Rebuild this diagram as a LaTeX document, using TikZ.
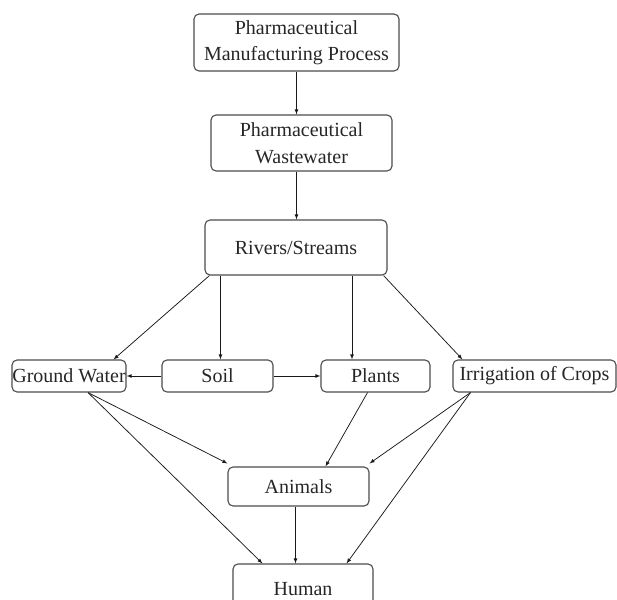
\documentclass[tikz,border=0pt]{standalone}
\usepackage{fontspec}
\setmainfont{Liberation Serif}
\usetikzlibrary{arrows,positioning,calc}

\tikzset{
  stage/.style={draw=black!70, line width=1.1pt, rounded corners=5pt, align=center,
    inner sep=0pt, text=black!85, font=\fontsize{20}{26.5}\selectfont},
  flow/.style={->, >=latex, line width=0.75pt, black!90}
}

\begin{document}
\begin{tikzpicture}[x=1pt,y=-1pt]
\useasboundingbox (0,0) rectangle (617,599);
% boxes
\node [stage, minimum width=205pt, minimum height=57pt] (proc) at (296.5,42.5) {Pharmaceutical\\Manufacturing Process};
\node [stage, minimum width=181pt, minimum height=56pt] (waste) at (301.5,143) {Pharmaceutical\\Wastewater};
\node [stage, minimum width=182pt, minimum height=55pt] (rivers) at (296,247.5) {Rivers/Streams};
\node [stage, minimum width=114pt, minimum height=32pt] (ground) at (69,376) {Ground Water};
\node [stage, minimum width=111pt, minimum height=32pt] (soil) at (217.5,376) {Soil};
\node [stage, minimum width=109pt, minimum height=32pt] (plants) at (375.5,376) {Plants};
\node [stage, minimum width=163pt, minimum height=32pt] (irrig) at (534.5,376) {Irrigation of Crops};
\node [stage, minimum width=141pt, minimum height=39pt] (animals) at (298.5,486.5) {Animals};
\node [stage, minimum width=140pt, minimum height=50pt] (human) at (303,589) {Human};
% connectors
\draw [flow] (proc.south) -- (proc.south |- waste.north);
\draw [flow] (proc.south |- waste.south) -- (proc.south |- rivers.north);
\draw [flow] ([xshift=5pt]rivers.south west) -- ([xshift=-13pt]ground.north east);
\draw [flow] ([xshift=16pt]rivers.south west) -- ([xshift=16pt]rivers.south west |- soil.north);
\draw [flow] ([xshift=56pt]rivers.south) -- ([xshift=56pt]rivers.south |- plants.north);
\draw [flow] ([xshift=-4pt]rivers.south east) -- ([xshift=10pt]irrig.north west);
\draw [flow] (soil.west) -- (ground.east);
\draw [flow] (soil.east) -- (plants.west);
\draw [flow] ([xshift=19pt]ground.south) -- ([yshift=3pt]animals.north west);
\draw [flow] ([xshift=19pt]ground.south) -- ([xshift=30pt]human.north west);
\draw [flow] ([xshift=-8pt]plants.south) -- ([xshift=27pt]animals.north);
\draw [flow] ([xshift=-64pt]irrig.south) -- ([yshift=3pt]animals.north east);
\draw [flow] ([xshift=-64pt]irrig.south) -- ([xshift=-27pt]human.north east);
\draw [flow] ([xshift=-3pt]animals.south) -- ([xshift=-3pt]animals.south |- human.north);
\end{tikzpicture}
\end{document}
